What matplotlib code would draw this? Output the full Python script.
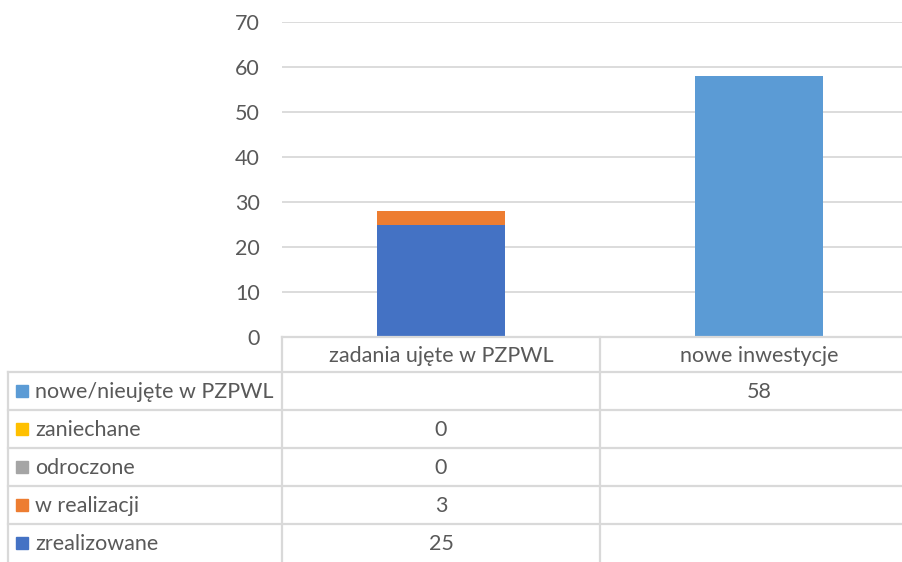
import matplotlib
matplotlib.use("Agg")
import matplotlib.pyplot as plt
import numpy as np
from matplotlib.lines import Line2D
from matplotlib.patches import Rectangle

categories = ["zadania ujęte w PZPWL", "nowe inwestycje"]
series_names = ["zrealizowane", "w realizacji", "odroczone", "zaniechane", "nowe/nieujęte w PZPWL"]
zrealizowane = [25, np.nan]
w_realizacji = [3, np.nan]
odroczone = [0, np.nan]
zaniechane = [0, np.nan]
nowe = [np.nan, 58]
series_values = [zrealizowane, w_realizacji, odroczone, zaniechane, nowe]
colors = ["#4472C4", "#ED7D31", "#A5A5A5", "#FFC000", "#5B9BD5"]
y_ticks = [0, 10, 20, 30, 40, 50, 60, 70]

W, H = 903, 562
plt.rcParams['font.family'] = ['Lato', 'DejaVu Sans']
fig = plt.figure(figsize=(W / 100, H / 100), dpi=100)

def fx(px):
    return px / W

def fy(py):
    return 1 - py / H

ax_left, ax_right, ax_top, ax_bottom = 282, 918, 22, 337
ax = fig.add_axes([fx(ax_left), fy(ax_bottom), fx(ax_right) - fx(ax_left), fy(ax_top) - fy(ax_bottom)])
ax.set_xlim(-0.5, 1.5)
ax.set_ylim(0, 70)

x = np.arange(len(categories))
bottom = np.zeros(len(categories))
for name, vals, c in zip(series_names, series_values, colors):
    v = np.nan_to_num(np.array(vals, dtype=float))
    ax.bar(x, v, width=0.4, bottom=bottom, color=c, zorder=3)
    bottom += v

fs = 15.5
tc = "#595959"
ax.set_yticks(y_ticks)
ax.set_yticklabels([str(t) for t in y_ticks], color=tc, fontsize=fs)
ax.tick_params(axis='y', length=0, pad=16)
ax.set_xticks([])
ax.grid(axis='y', color="#D9D9D9", linewidth=1.3, zorder=0)
for s in ax.spines.values():
    s.set_visible(False)

# ---- data table ----
gc = "#D9D9D9"
lw = 1.6
header_top, header_bot = 337, 372
row_h = (562 - header_bot) / 5.0
left_px = 8

def data_to_px(xd):
    disp = ax.transData.transform((xd, 0))
    fig_xy = fig.transFigure.inverted().transform(disp)
    return fig_xy[0] * W

col_edges = [data_to_px(-0.5), data_to_px(0.5), data_to_px(1.5)]

def hline(y, x0, x1):
    fig.add_artist(Line2D([fx(x0), fx(x1)], [fy(y), fy(y)], color=gc, lw=lw, transform=fig.transFigure))

def vline(xp, y0, y1):
    fig.add_artist(Line2D([fx(xp), fx(xp)], [fy(y0), fy(y1)], color=gc, lw=lw, transform=fig.transFigure))

hline(header_top, col_edges[0], W)
hline(header_bot, left_px, W)
for i in range(1, 5):
    hline(header_bot + i * row_h, left_px, W)
vline(left_px, header_bot, H)
vline(col_edges[0], header_top, H)
vline(col_edges[1], header_top, H)

for i, cat in enumerate(categories):
    cx = data_to_px(x[i])
    fig.text(fx(cx), fy((header_top + header_bot) / 2 + 1), cat, ha='center', va='center', color=tc, fontsize=fs)

rows = list(range(len(series_names)))[::-1]
for r, si in enumerate(rows):
    yc = header_bot + (r + 0.5) * row_h
    fig.add_artist(Rectangle((fx(16), fy(yc + 6)), fx(12), 12 / H, color=colors[si], transform=fig.transFigure))
    fig.text(fx(35), fy(yc + 1), series_names[si], ha='left', va='center', color=tc, fontsize=fs)
    for i in range(len(categories)):
        v = series_values[si][i]
        if not np.isnan(v):
            fig.text(fx(data_to_px(x[i])), fy(yc + 1), str(int(v)), ha='center', va='center', color=tc, fontsize=fs)

fig.savefig("out.png", dpi=100)
